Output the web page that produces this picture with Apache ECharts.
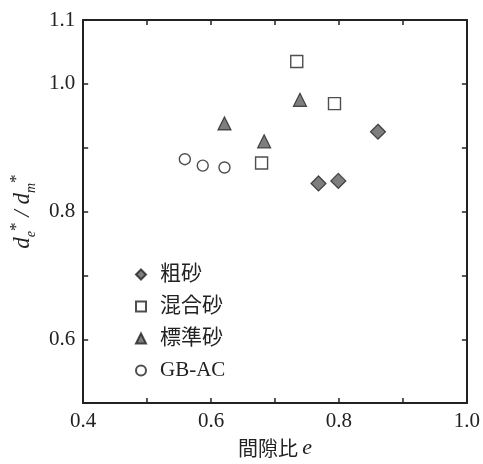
<!DOCTYPE html>
<html><head><meta charset="utf-8">
<script src="https://cdn.jsdelivr.net/npm/echarts@6/dist/echarts.min.js"></script>
<style>html,body{margin:0;padding:0;background:#fff}#c{width:483px;height:464px}</style>
</head><body><div id="c"></div>
<script>
const seriesNames = ['粗砂', '混合砂', '標準砂', 'GB-AC'];
const coarseSand = [[0.768, 0.844], [0.799, 0.848], [0.861, 0.925]];
const mixedSand = [[0.734, 1.035], [0.793, 0.969], [0.679, 0.876]];
const standardSand = [[0.621, 0.938], [0.683, 0.910], [0.739, 0.975]];
const gbac = [[0.559, 0.882], [0.587, 0.872], [0.621, 0.869]];
const xLabels = [0.4, 0.6, 0.8, 1.0];
const yLabels = [0.6, 0.8, 1.0, 1.1];

const serif = 'Liberation Serif';
const cjk = 'Noto Sans CJK JP';
const dark = '#222';
const fill = '#5e5e5e';
const near = (v, arr) => arr.some(a => Math.abs(a - v) < 1e-6);

const chart = echarts.init(document.getElementById('c'), null, {renderer: 'canvas'});
const axisCommon = {
  axisLine: {show: true, lineStyle: {color: dark, width: 2}},
  axisTick: {show: true, inside: true, length: 5, lineStyle: {color: dark, width: 1.5}},
  splitLine: {show: false}
};
chart.setOption({
  animation: false,
  backgroundColor: '#fff',
  grid: {left: 82, right: 14, top: 20, bottom: 53},
  legend: {
    orient: 'vertical', left: 130, top: 259, itemGap: 11,
    itemWidth: 10, itemHeight: 10,
    textStyle: {fontFamily: serif + ', ' + cjk, fontSize: 21, color: dark, padding: [0, 0, 0, 9]},
    data: seriesNames
  },
  xAxis: [
    Object.assign({}, axisCommon, {
      type: 'value', min: 0.4, max: 1.0, interval: 0.1, position: 'bottom',
      axisLabel: {fontFamily: serif, fontSize: 21, color: dark, margin: 8,
        formatter: v => near(v, xLabels) ? v.toFixed(1) : ''},
      name: '{a|間隙比 }{b|e}', nameLocation: 'middle', nameGap: 30,
      nameTextStyle: {rich: {
        a: {fontFamily: cjk, fontSize: 20, color: dark},
        b: {fontFamily: serif, fontStyle: 'italic', fontSize: 22, color: dark}
      }}
    }),
    Object.assign({}, axisCommon, {
      type: 'value', min: 0.4, max: 1.0, interval: 0.1, position: 'top',
      axisLabel: {show: false}
    })
  ],
  yAxis: [
    Object.assign({}, axisCommon, {
      type: 'value', min: 0.5, max: 1.1, interval: 0.1, position: 'left',
      axisLabel: {fontFamily: serif, fontSize: 21, color: dark, margin: 8,
        formatter: v => near(v, yLabels) ? v.toFixed(1) : ''},
      name: '{i|d}{s|e}{p|*}{i| / d}{s|m}{p|*}', nameLocation: 'middle', nameGap: 36, nameRotate: 90,
      nameTextStyle: {rich: {
        i: {fontFamily: serif, fontStyle: 'italic', fontWeight: 'normal', fontSize: 23, color: dark, lineHeight: 30, verticalAlign: 'middle'},
        s: {fontFamily: serif, fontStyle: 'italic', fontWeight: 'normal', fontSize: 14, color: dark, lineHeight: 30, verticalAlign: 'bottom'},
        p: {fontFamily: serif, fontWeight: 'normal', fontSize: 17, color: dark, lineHeight: 30, verticalAlign: 'top'}
      }}
    }),
    Object.assign({}, axisCommon, {
      type: 'value', min: 0.5, max: 1.1, interval: 0.1, position: 'right',
      axisLabel: {show: false}
    })
  ],
  series: [
    {name: seriesNames[0], type: 'scatter', data: coarseSand, symbol: 'diamond', symbolSize: 15,
      itemStyle: {color: fill, borderColor: dark, borderWidth: 1.2}},
    {name: seriesNames[1], type: 'scatter', data: mixedSand, symbol: 'rect', symbolSize: 12,
      itemStyle: {color: '#fff', borderColor: dark, borderWidth: 1.4}},
    {name: seriesNames[2], type: 'scatter', data: standardSand, symbol: 'triangle', symbolSize: 13,
      itemStyle: {color: fill, borderColor: dark, borderWidth: 1.2}},
    {name: seriesNames[3], type: 'scatter', data: gbac, symbol: 'circle', symbolSize: 11,
      itemStyle: {color: '#fff', borderColor: dark, borderWidth: 1.4}}
  ]
});
</script></body></html>
